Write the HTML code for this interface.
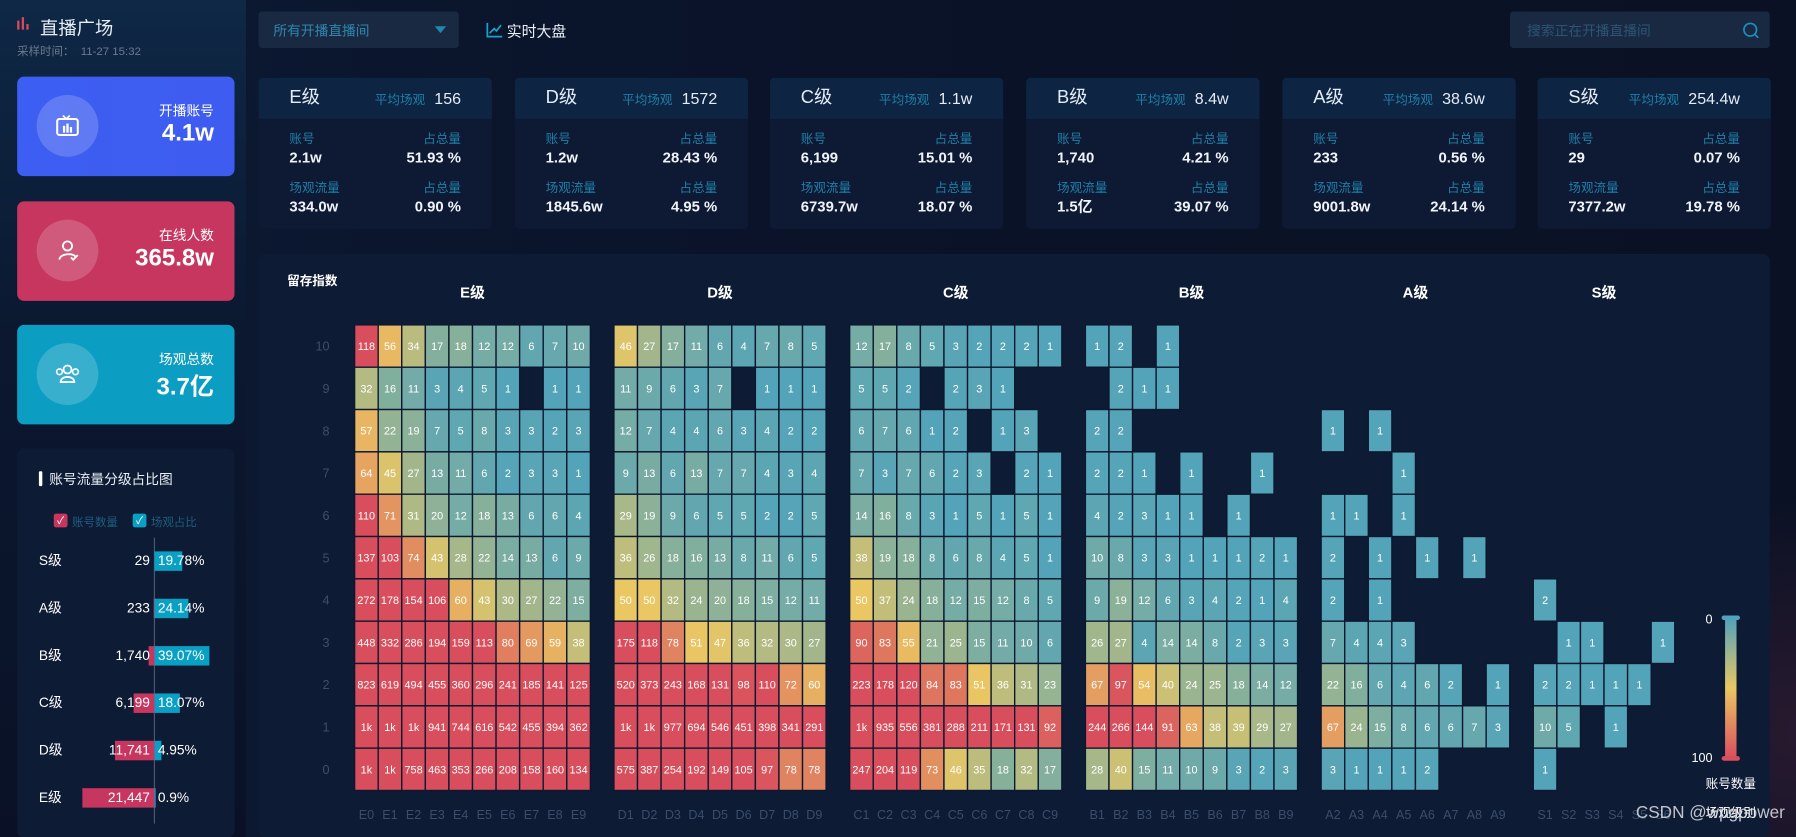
<!DOCTYPE html>
<html><head><meta charset="utf-8">
<style>
*{margin:0;padding:0;box-sizing:border-box}
html,body{width:1796px;height:837px;overflow:hidden;background:#0a1124}
body{font-family:"Liberation Sans","Noto Sans CJK SC",sans-serif;color:#fff}
#root{position:absolute;left:0;top:0;width:1570px;height:732px;transform:scale(1.14395);transform-origin:0 0;
background:radial-gradient(ellipse 500px 300px at 1600px 640px,#2a1a30 0%,rgba(10,17,36,0) 70%),linear-gradient(90deg,#0c1a34 0%,#0a1329 40%,#0a1124 100%)}
.abs{position:absolute}
.side{left:0;top:0;width:215px;height:732px;background:linear-gradient(180deg,#0e2846 0%,#0b1830 40%,#0a1126 100%)}
.kcard{position:absolute;left:15px;width:190px;height:87px;border-radius:6px}
.kcard .circ{position:absolute;left:17px;top:16px;width:54px;height:54px;border-radius:50%;background:rgba(255,255,255,.18)}
.kcard .lab{position:absolute;right:18px;top:21px;font-size:12px}
.kcard .val{position:absolute;right:18px;top:38px;font-size:21px;font-weight:bold}
.gcard{position:absolute;top:68px;width:204px;height:132px;border-radius:4px;background:#0e1a34;overflow:hidden}
.gcard .hd{position:absolute;left:0;top:0;width:100%;height:36px;background:#0d2443}
.gcard .t,.gcard .avgw{position:absolute;top:0;height:36px;line-height:36px}
.gcard .t{left:27px;font-size:16px;color:#e6ecf5}
.gcard .avgw{right:27px;white-space:nowrap}
.gcard .avgl{font-size:11px;color:#1f7fa8;margin-right:8px}
.gcard .avg{font-size:14px;color:#e6ecf5}
.gcard .sl{position:absolute;font-size:11px;line-height:13px;color:#1f7fa8}
.gcard .sv{position:absolute;font-size:13px;line-height:15px;font-weight:bold;color:#f0f4fa}
.l{left:27px}.r{right:27px;text-align:right}
</style></head><body>
<div id="root">
<div class="abs side"></div>
<svg class="abs" style="left:14px;top:14px" width="12" height="12"><rect x="1" y="4" width="2" height="8" fill="#d9495c"/><rect x="5" y="1" width="2" height="11" fill="#d9495c"/><rect x="9" y="7" width="2" height="5" fill="#d9495c"/></svg>
<div class="abs" style="left:35px;top:11px;font-size:16px;color:#e8eef6">直播广场</div>
<div class="abs" style="left:15px;top:36px;font-size:10px;color:#6b7a90">采样时间：&nbsp;&nbsp;11-27 15:32</div>

<div class="kcard" style="top:67px;background:linear-gradient(90deg,#3c5ef2,#3f5cf0)"><div class="circ"></div>
<svg class="abs" style="left:33px;top:33px" width="22" height="20"><rect x="2" y="4" width="18" height="14" rx="2" fill="none" stroke="#fff" stroke-width="1.8"/><path d="M7 1 L10 4 L13 1" fill="none" stroke="#fff" stroke-width="1.5"/><rect x="7" y="10" width="2" height="6" fill="#fff"/><rect x="10" y="8" width="2" height="8" fill="#fff"/><rect x="13" y="11" width="2" height="5" fill="#fff"/></svg>
<div class="lab">开播账号</div><div class="val">4.1w</div></div>
<div class="kcard" style="top:176px;background:#c6365f"><div class="circ"></div>
<svg class="abs" style="left:35px;top:33px" width="20" height="20"><circle cx="9" cy="6" r="4" fill="none" stroke="#fff" stroke-width="1.6"/><path d="M2 18 C2 12 16 12 16 16" fill="none" stroke="#fff" stroke-width="1.6"/><path d="M12 16 l2 2 l4 -4" fill="none" stroke="#fff" stroke-width="1.6"/></svg>
<div class="lab">在线人数</div><div class="val">365.8w</div></div>
<div class="kcard" style="top:284px;background:#0c9ec2"><div class="circ"></div>
<svg class="abs" style="left:33px;top:33px" width="22" height="20"><circle cx="11" cy="6" r="3.5" fill="none" stroke="#fff" stroke-width="1.6"/><circle cx="4" cy="8" r="2.5" fill="none" stroke="#fff" stroke-width="1.4"/><circle cx="18" cy="8" r="2.5" fill="none" stroke="#fff" stroke-width="1.4"/><path d="M5 17 C5 11 17 11 17 17 Z" fill="none" stroke="#fff" stroke-width="1.6"/></svg>
<div class="lab">场观总数</div><div class="val">3.7亿</div></div>

<div class="abs" style="left:15px;top:392px;width:190px;height:340px;background:#0e1b34;border-radius:6px"></div>
<div class="abs" style="left:34px;top:412px;width:3px;height:13px;background:#fff;border-radius:1px"></div>
<div class="abs" style="left:43px;top:410px;font-size:12px;color:#e8eef6">账号流量分级占比图</div>
<div class="abs" style="left:47px;top:449px;width:12px;height:12px;border-radius:2px;background:#c6365f;font-size:9px;line-height:12px;text-align:center">✓</div>
<div class="abs" style="left:63px;top:448px;font-size:10px;color:#1d5e80">账号数量</div>
<div class="abs" style="left:116px;top:449px;width:12px;height:12px;border-radius:2px;background:#0aa0c4;font-size:9px;line-height:12px;text-align:center">✓</div>
<div class="abs" style="left:132px;top:448px;font-size:10px;color:#1d5e80">场观占比</div>
<svg id="bars" class="abs" style="left:0;top:0" width="215" height="732"></svg>

<div class="abs" style="left:226px;top:10px;width:175px;height:32px;background:#1a2942;border-radius:3px">
<div class="abs" style="left:13px;top:8px;font-size:12px;color:#2d87ad">所有开播直播间</div>
<div class="abs" style="left:154px;top:13px;width:0;height:0;border-left:5px solid transparent;border-right:5px solid transparent;border-top:6px solid #1d8ab0"></div></div>
<svg class="abs" style="left:425px;top:19px" width="15" height="14"><path d="M1 1 V13 H14" fill="none" stroke="#17a3d0" stroke-width="1.5"/><path d="M3 10 L7 6 L9 8 L13 3" fill="none" stroke="#17a3d0" stroke-width="1.5"/></svg>
<div class="abs" style="left:443px;top:17px;font-size:13px;color:#eaf0f8">实时大盘</div>
<div class="abs" style="left:1320px;top:10px;width:227px;height:32px;background:#1a2942;border-radius:3px">
<div class="abs" style="left:15px;top:8px;font-size:12px;color:#2a5575">搜索正在开播直播间</div>
<svg class="abs" style="left:203px;top:9px" width="15" height="15"><circle cx="7" cy="7" r="5.5" fill="none" stroke="#1a8fc0" stroke-width="1.5"/><path d="M11 11 L14 14" stroke="#1a8fc0" stroke-width="1.5"/></svg></div>

<div id="cards"></div>

<div class="abs" style="left:226px;top:222px;width:1321px;height:510px;background:#0d1b34;border-radius:6px"></div>
<div class="abs" style="left:251px;top:237px;font-size:11px;font-weight:bold;color:#fff">留存指数</div>
<svg id="heat" class="abs" style="left:0;top:0" width="1570" height="732"></svg>
<div class="abs" style="left:1430px;top:702px;font-size:15px;color:rgba(225,225,230,.85)">CSDN @wpgpower</div>
</div>
<script>
// ---- grade cards ----
const gradeNames=['E级','D级','C级','B级','A级','S级'];
const gradeAvg=['156','1572','1.1w','8.4w','38.6w','254.4w'];
const gradeAcc=['2.1w','1.2w','6,199','1,740','233','29'];
const gradeAccPct=['51.93 %','28.43 %','15.01 %','4.21 %','0.56 %','0.07 %'];
const gradeFlow=['334.0w','1845.6w','6739.7w','1.5亿','9001.8w','7377.2w'];
const gradeFlowPct=['0.90 %','4.95 %','18.07 %','39.07 %','24.14 %','19.78 %'];
const cx=[226,450,673,897,1121,1344];
let h='';
gradeNames.forEach((g,i)=>{
h+=`<div class="gcard" style="left:${cx[i]}px"><div class="hd"></div>
<div class="t">${g}</div><div class="avgw"><span class="avgl">平均场观</span><span class="avg">${gradeAvg[i]}</span></div>
<div class="sl l" style="top:48px">账号</div><div class="sl r" style="top:48px">占总量</div>
<div class="sv l" style="top:62px">${gradeAcc[i]}</div><div class="sv r" style="top:62px">${gradeAccPct[i]}</div>
<div class="sl l" style="top:91px">场观流量</div><div class="sl r" style="top:91px">占总量</div>
<div class="sv l" style="top:105px">${gradeFlow[i]}</div><div class="sv r" style="top:105px">${gradeFlowPct[i]}</div></div>`;});
document.getElementById('cards').outerHTML=h;

// ---- ratio bar chart ----
const NS='http://www.w3.org/2000/svg';
const barCats=['S级','A级','B级','C级','D级','E级'];
const barCounts=[29,233,1740,6199,11741,21447];
const barPcts=[19.78,24.14,39.07,18.07,4.95,0.9];
const barSvg=document.getElementById('bars');
const axisX=135, rowY0=490, rowGap=41.4;
const cntScale=c=>c*63/21447, pctScale=p=>p*1.23;
function mk(tag,attrs,parent){const e=document.createElementNS(NS,tag);for(const k in attrs)e.setAttribute(k,attrs[k]);parent.appendChild(e);return e;}
const ax=mk('line',{x1:axisX,x2:axisX,y1:470,y2:720,stroke:'#4a5a72','stroke-width':1},barSvg);


barCats.forEach((c,i)=>{
 const y=rowY0+i*rowGap;
 const w1=cntScale(barCounts[i]);
 const r1=mk('rect',{x:axisX-w1,y:y-8,width:w1,height:17,fill:'#c6365f'},barSvg);
 
 
 const w2=pctScale(barPcts[i]);
 const r2=mk('rect',{x:axisX,y:y-8,width:w2,height:17,fill:'#0aa0c4'},barSvg);
 
 
 const t0=mk('text',{x:34,y:y+4,'font-size':12,fill:'#fff'},barSvg);t0.textContent=c;
 
 
 const t1=mk('text',{x:131,y:y+4,'font-size':12,fill:'#fff','text-anchor':'end'},barSvg);t1.textContent=barCounts[i].toLocaleString('en-US');
 
 
 const t2=mk('text',{x:138,y:y+4,'font-size':12,fill:'#fff'},barSvg);t2.textContent=barPcts[i]+'%';
 
 
});

// ---- heatmap ----
const N=null;
const xCats=['E0','E1','E2','E3','E4','E5','E6','E7','E8','E9','',
'D1','D2','D3','D4','D5','D6','D7','D8','D9','',
'C1','C2','C3','C4','C5','C6','C7','C8','C9','',
'B1','B2','B3','B4','B5','B6','B7','B8','B9','',
'A2','A3','A4','A5','A6','A7','A8','A9','',
'S1','S2','S3','S4','S5','S6'];
const yCats=[0,1,2,3,4,5,6,7,8,9,10];
// rows listed from retention 10 down to 0
const gE=[[118,56,34,17,18,12,12,6,7,10],[32,16,11,3,4,5,1,N,1,1],[57,22,19,7,5,8,3,3,2,3],[64,45,27,13,11,6,2,3,3,1],[110,71,31,20,12,18,13,6,6,4],[137,103,74,43,28,22,14,13,6,9],[272,178,154,106,60,43,30,27,22,15],[448,332,286,194,159,113,80,69,59,38],[823,619,494,455,360,296,241,185,141,125],[1000,1000,1000,941,744,616,542,455,394,362],[1000,1000,758,463,353,266,208,158,160,134]];
const gD=[[46,27,17,11,6,4,7,8,5],[11,9,6,3,7,N,1,1,1],[12,7,4,4,6,3,4,2,2],[9,13,6,13,7,7,4,3,4],[29,19,9,6,5,5,2,2,5],[36,26,18,16,13,8,11,6,5],[50,50,32,24,20,18,15,12,11],[175,118,78,51,47,36,32,30,27],[520,373,243,168,131,98,110,72,60],[1000,1000,977,694,546,451,398,341,291],[575,387,254,192,149,105,97,78,78]];
const gC=[[12,17,8,5,3,2,2,2,1],[5,5,2,N,2,3,1,N,N],[6,7,6,1,2,N,1,3,N],[7,3,7,6,2,3,N,2,1],[14,16,8,3,1,5,1,5,1],[38,19,18,8,6,8,4,5,1],[50,37,24,18,12,15,12,8,5],[90,83,55,21,25,15,11,10,6],[223,178,120,84,83,51,36,31,23],[1000,935,556,381,288,211,171,131,92],[247,204,119,73,46,35,18,32,17]];
const gB=[[1,2,N,1,N,N,N,N,N],[N,2,1,1,N,N,N,N,N],[2,2,N,N,N,N,N,N,N],[2,2,1,N,1,N,N,1,N],[4,2,3,1,1,N,1,N,N],[10,8,3,3,1,1,1,2,1],[9,19,12,6,3,4,2,1,4],[26,27,4,14,14,8,2,3,3],[67,97,54,40,24,25,18,14,12],[244,266,144,91,63,38,39,29,27],[28,40,15,11,10,9,3,2,3]];
const gA=[[N,N,N,N,N,N,N,N],[N,N,N,N,N,N,N,N],[1,N,1,N,N,N,N,N],[N,N,N,1,N,N,N,N],[1,1,N,1,N,N,N,N],[2,N,1,N,1,N,1,N],[2,N,1,N,N,N,N,N],[7,4,4,3,N,N,N,N],[22,16,6,4,6,2,N,1],[67,24,15,8,6,6,7,3],[3,1,1,1,2,N,N,N]];
const gS=[[N,N,N,N,N,N],[N,N,N,N,N,N],[N,N,N,N,N,N],[N,N,N,N,N,N],[N,N,N,N,N,N],[N,N,N,N,N,N],[2,N,N,N,N,N],[N,1,1,N,N,1],[2,2,1,1,1,N],[10,5,N,1,N,N],[1,N,N,N,N,N]];
const groups=[['E',gE,'E级'],['D',gD,'D级'],['C',gC,'C级'],['B',gB,'B级'],['A',gA,'A级'],['S',gS,'S级']];
const heat=document.getElementById('heat');
const plotL=310, plotR=1464, plotT=284, plotB=691;
const cw=(plotR-plotL)/xCats.length, ch=(plotB-plotT)/yCats.length;
const xPos=i=>plotL+i*cw, yPos=v=>plotB-(v+1)*ch;
function lerp(a,b,t){return Math.round(a+(b-a)*t);}
function hex(c){return [1,3,5].map(i=>parseInt(c.substr(i,2),16));}
const stops=['#50a3ba','#eac763','#d94e5d'].map(hex);
function color(v){let t=Math.max(0,Math.min(1,v/100));let a,b,u;if(t<.5){a=stops[0];b=stops[1];u=t*2}else{a=stops[1];b=stops[2];u=(t-.5)*2}return `rgb(${lerp(a[0],b[0],u)},${lerp(a[1],b[1],u)},${lerp(a[2],b[2],u)})`;}
const fmt=v=>v>=1000?'1k':String(v);
yCats.forEach(v=>{const t=mk('text',{x:288,y:yPos(v)+ch/2+4,'font-size':11,fill:'#3e4f6a','text-anchor':'end'},heat);t.textContent=v;
 
 });
xCats.forEach((c,i)=>{if(!c)return;const t=mk('text',{x:xPos(i)+cw/2,y:716,'font-size':11,fill:'#3b4d6b','text-anchor':'middle'},heat);t.textContent=c;
 
 });
groups.forEach(([k,rows,title])=>{
 const first=xCats.indexOf(rows===gA?'A2':k+(k==='E'?'0':'1'));
 const n=rows[0].length;
 const tt=mk('text',{x:xPos(first)+n*cw/2,y:260,'font-size':13,'font-weight':'bold',fill:'#fff','text-anchor':'middle'},heat);tt.textContent=title;
 
 
 rows.forEach((row,ri)=>{const yv=10-ri;row.forEach((v,ci)=>{if(v===null)return;
  const x=xPos(first+ci), y=yPos(yv);
  const r=mk('rect',{x:x,y:y,width:cw,height:ch,fill:color(v),stroke:'#0c1830','stroke-width':1.2},heat);
  
  
  const t=mk('text',{x:x+cw/2,y:y+ch/2+3.5,'font-size':9.5,fill:'#fff','text-anchor':'middle'},heat);t.textContent=fmt(v);
  
  
 });});
});
// visual map legend
const defs=mk('defs',{},heat);const lg=mk('linearGradient',{id:'vm',x1:0,y1:0,x2:0,y2:1},defs);
[['0','#50a3ba'],['0.5','#eac763'],['1','#d94e5d']].forEach(s=>mk('stop',{offset:s[0],'stop-color':s[1]},lg));
const vm=mk('rect',{x:1508,y:540,width:10,height:123,rx:2,fill:'url(#vm)'},heat);


mk('rect',{x:1505,y:538,width:16,height:4,rx:2,fill:'#50a3ba'},heat);
mk('rect',{x:1505,y:661,width:16,height:4,rx:2,fill:'#d94e5d'},heat);
[['0',1497,545],['100',1497,666]].forEach(a=>{const t=mk('text',{x:a[1],y:a[2],'font-size':11,fill:'#fff','text-anchor':'end'},heat);t.textContent=a[0];
 
 });
const l1=mk('text',{x:1513,y:689,'font-size':11,fill:'#fff','text-anchor':'middle'},heat);l1.textContent='账号数量';


const l2=mk('text',{x:1513,y:714,'font-size':11,fill:'#fff','text-anchor':'middle'},heat);l2.textContent='场观级别';


</script>
</body></html>
